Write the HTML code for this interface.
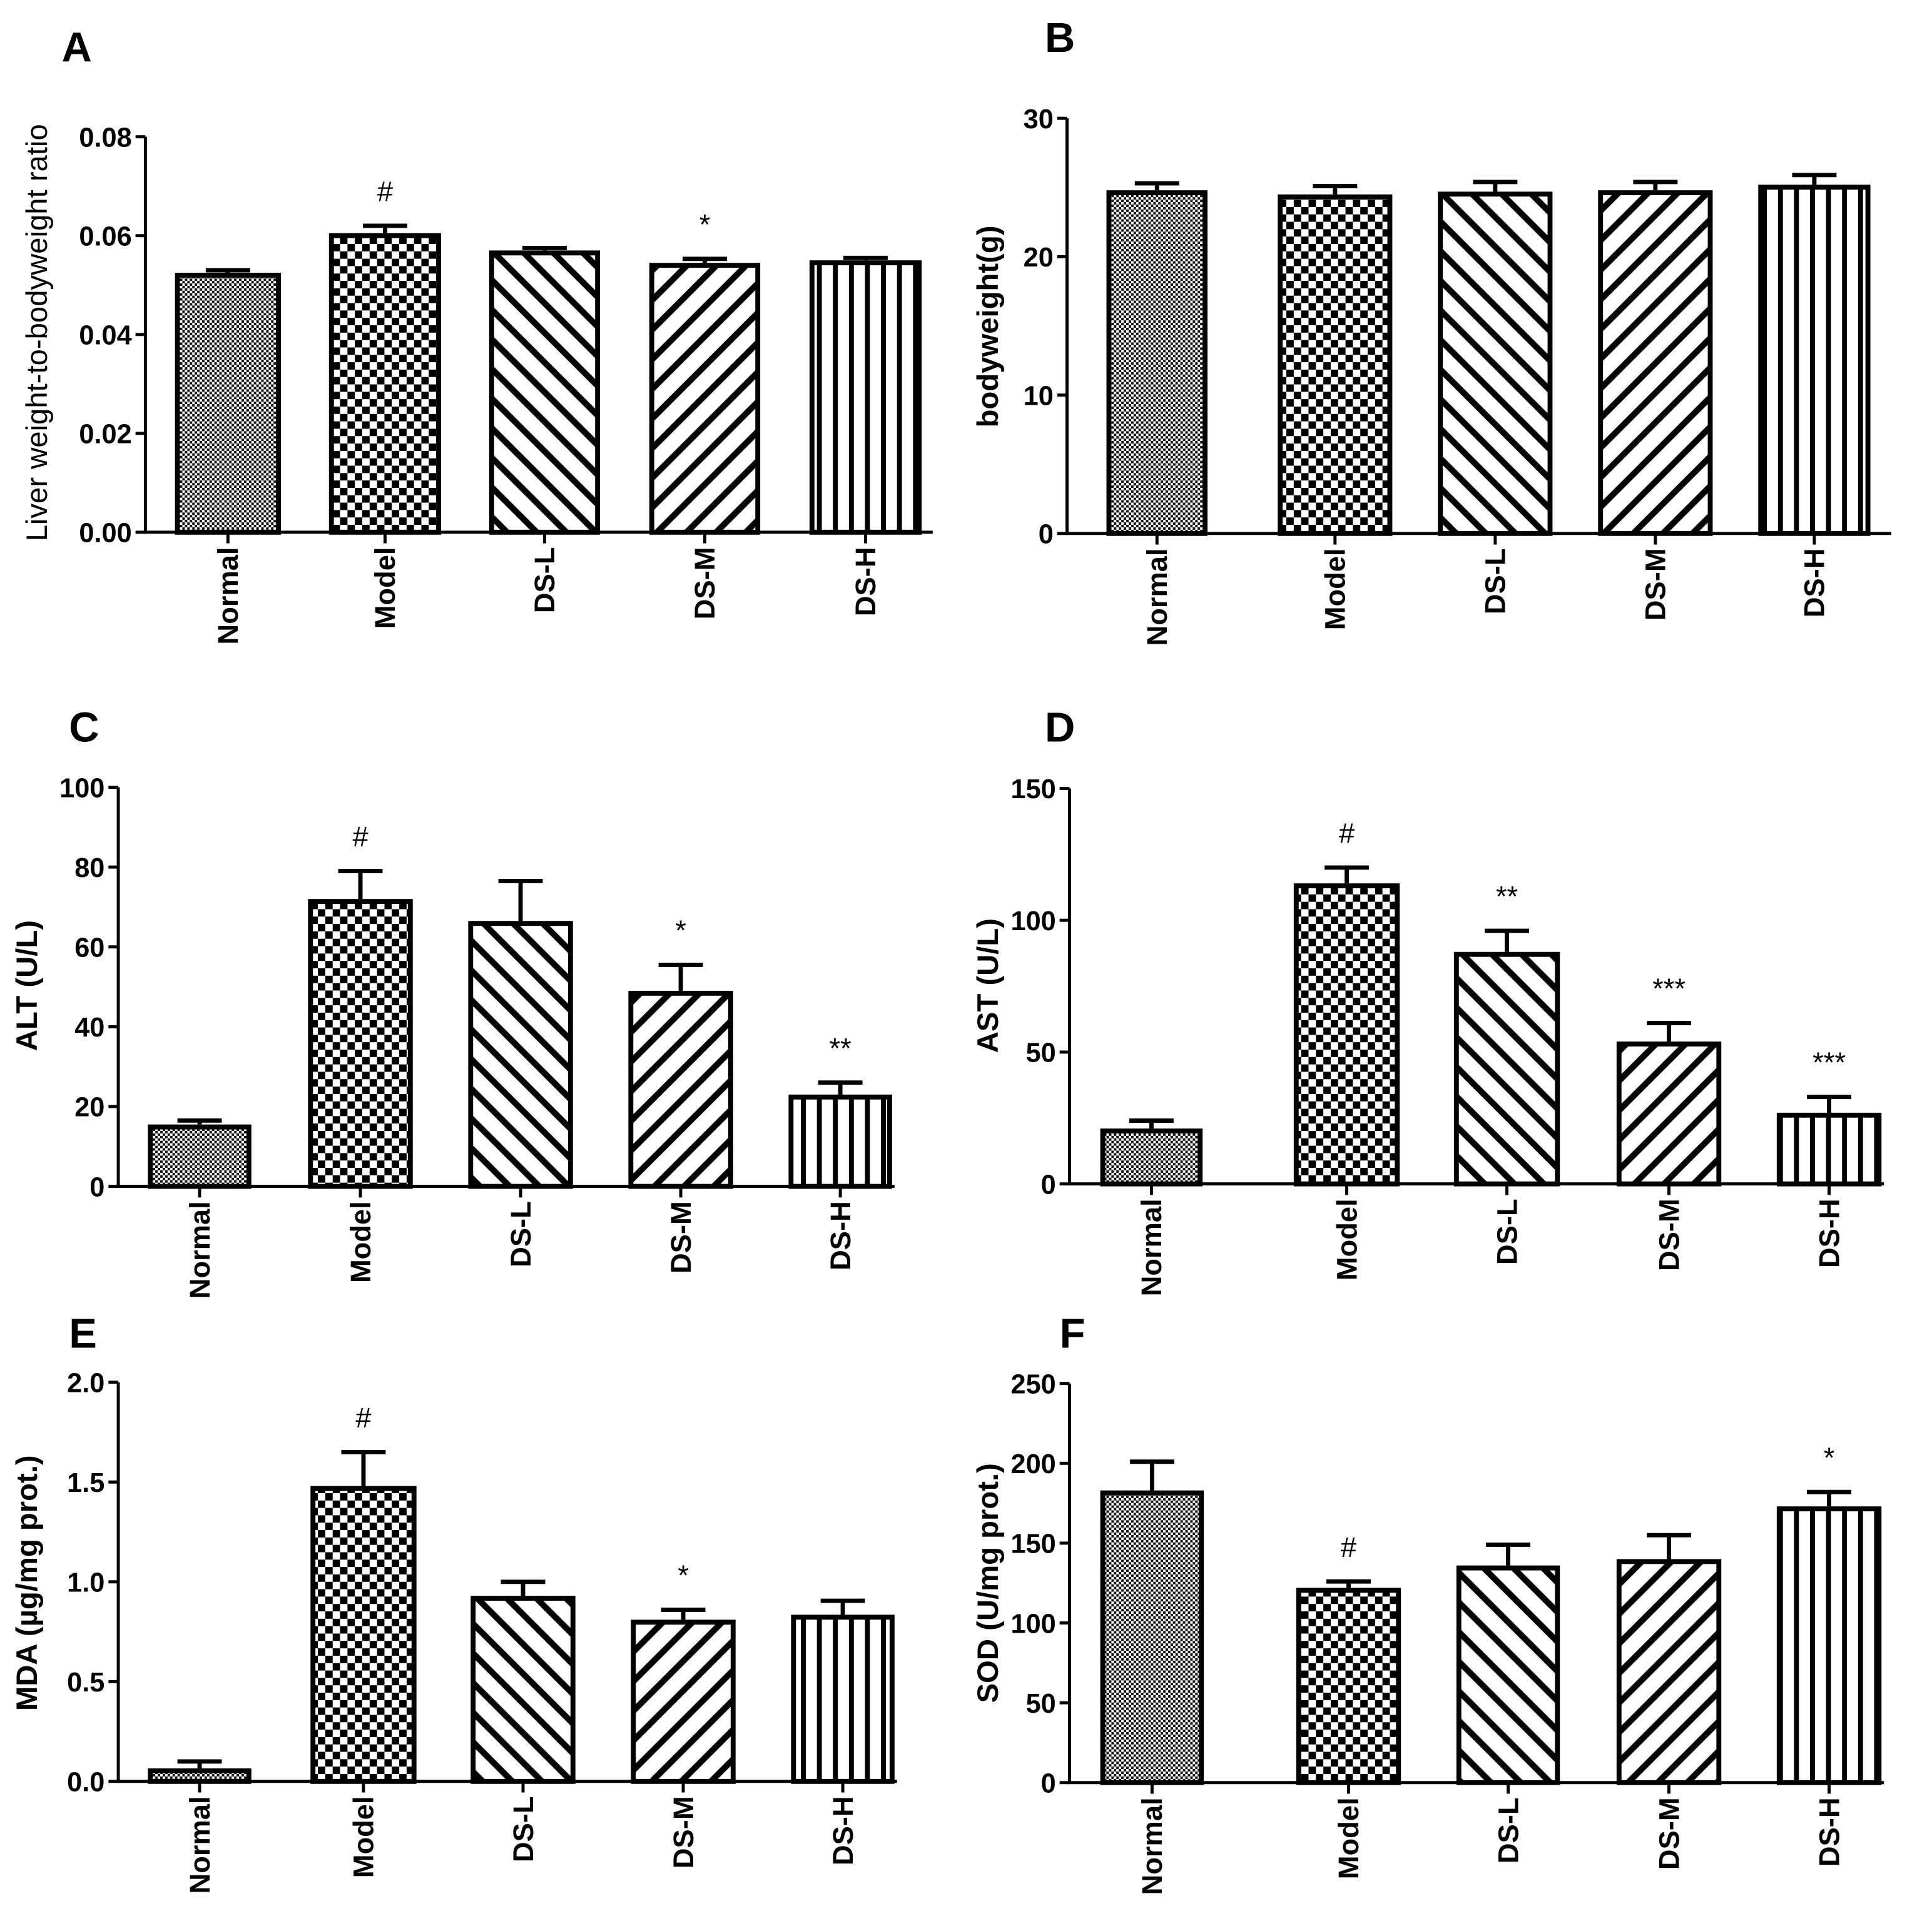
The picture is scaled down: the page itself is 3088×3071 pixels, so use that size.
<!DOCTYPE html>
<html><head><meta charset="utf-8"><style>
html,body{margin:0;padding:0;background:#fff;}
svg{display:block;}
text{font-family:"Liberation Sans",Arial,sans-serif;}
.tk{font-family:"Liberation Sans Narrow","Liberation Sans",sans-serif;font-weight:bold;font-size:22px;}
.cat{font-weight:bold;font-size:23px;}
.ttl{font-size:24px;}
.pl{font-weight:bold;font-size:34px;}
.sig{font-size:23px;}
</style></head><body>
<svg id="fig" width="3088" height="3071" viewBox="0 0 1568 1559.3" xmlns="http://www.w3.org/2000/svg">
<defs>
<pattern id="p0" width="4" height="4" patternUnits="userSpaceOnUse"><rect width="4" height="4" fill="#fff"/><rect width="2" height="2" fill="#111"/><rect x="2" y="2" width="2" height="2" fill="#111"/></pattern>
<pattern id="p1" width="12" height="12" patternUnits="userSpaceOnUse"><rect width="12" height="12" fill="#fff"/><rect width="6" height="6" fill="#000"/><rect x="6" y="6" width="6" height="6" fill="#000"/></pattern>
<pattern id="p2" width="17" height="17" patternUnits="userSpaceOnUse" patternTransform="rotate(-45)"><rect width="17" height="17" fill="#fff"/><rect width="5" height="17" fill="#000"/></pattern>
<pattern id="p3" width="17" height="17" patternUnits="userSpaceOnUse" patternTransform="rotate(45)"><rect width="17" height="17" fill="#fff"/><rect width="5" height="17" fill="#000"/></pattern>
<pattern id="p4" width="13" height="13" patternUnits="userSpaceOnUse"><rect width="13" height="13" fill="#fff"/><rect width="4" height="13" fill="#000"/></pattern>
</defs>
</svg>
<script>
const categories = ["Normal","Model","DS-L","DS-M","DS-H"];
const aValues = [0.0525,0.0605,0.057,0.0545,0.055];
const aErrors = [0.0005,0.0015,0.0005,0.0008,0.0005];
const aTicks = ["0.00","0.02","0.04","0.06","0.08"];
const aSig = ["","#","","*",""];
const bValues = [24.8,24.5,24.7,24.8,25.2];
const bErrors = [0.5,0.6,0.7,0.6,0.7];
const bTicks = ["0","10","20","30"];
const bSig = ["","","","",""];
const cValues = [15.5,72,66.5,49,23];
const cErrors = [1,7,10,6.5,3];
const cTicks = ["0","20","40","60","80","100"];
const cSig = ["","#","","*","**"];
const dValues = [21,114,88,54,27];
const dErrors = [3,6,8,7,6];
const dTicks = ["0","50","100","150"];
const dSig = ["","#","**","***","***"];
const eValues = [0.065,1.48,0.93,0.81,0.835];
const eErrors = [0.035,0.17,0.07,0.05,0.07];
const eTicks = ["0.0","0.5","1.0","1.5","2.0"];
const eSig = ["","#","","*",""];
const fValues = [183,122,136,140,173];
const fErrors = [18,4,13,15,9];
const fTicks = ["0","50","100","150","200","250"];
const fSig = ["","#","","","*"];

const NS="http://www.w3.org/2000/svg";
const svg=document.getElementById('fig');
function mk(tag,attrs,parent,txt){const e=document.createElementNS(NS,tag);for(const k in attrs)e.setAttribute(k,attrs[k]);if(txt!==undefined)e.textContent=txt;(parent||svg).appendChild(e);return e;}

const panels=[
 {id:'a',letter:'A',lx:50,ly:50,ax:118,top:111,bot:432,xend:757,max:0.08,vals:aValues,errs:aErrors,ticks:aTicks,sig:aSig,bars:[[142,228],[267,358],[397,487],[527,617],[657,748]],title:"Liver weight-to-bodyweight ratio",tx:38,ty:270,tb:false,ts:29},
 {id:'b',letter:'B',lx:848,ly:42,ax:866,top:96,bot:433,xend:1535,max:30,vals:bValues,errs:bErrors,ticks:bTicks,sig:bSig,bars:[[898,980],[1037,1130],[1167,1260],[1297,1390],[1427,1518]],title:"bodyweight(g)",tx:810,ty:265,tb:true,ts:24},
 {id:'c',letter:'C',lx:56,ly:602,ax:96,top:639,bot:963,xend:726,max:100,vals:cValues,errs:cErrors,ticks:cTicks,sig:cSig,bars:[[120,204],[250,335],[380,465],[510,595],[640,724]],title:"ALT (U/L)",tx:30,ty:800,tb:true,ts:24},
 {id:'d',letter:'D',lx:848,ly:602,ax:868,top:640,bot:961,xend:1529,max:150,vals:dValues,errs:dErrors,ticks:dTicks,sig:dSig,bars:[[893,976],[1050,1136],[1180,1266],[1312,1397],[1442,1527]],title:"AST (U/L)",tx:810,ty:800,tb:true,ts:24},
 {id:'e',letter:'E',lx:56,ly:1094,ax:96,top:1122,bot:1446,xend:728,max:2.0,vals:eValues,errs:eErrors,ticks:eTicks,sig:eSig,bars:[[120,204],[252,338],[382,467],[512,597],[642,726]],title:"MDA (\u00b5g/mg prot.)",tx:30,ty:1285,tb:true,ts:24},
 {id:'f',letter:'F',lx:860,ly:1094,ax:868,top:1123,bot:1447,xend:1529,max:250,vals:fValues,errs:fErrors,ticks:fTicks,sig:fSig,bars:[[893,977],[1052,1137],[1182,1266],[1312,1397],[1442,1527]],title:"SOD (U/mg prot.)",tx:810,ty:1285,tb:true,ts:24}
];

panels.forEach(p=>{
 const g=mk('g',{});
 
 
 const y=v=>p.bot-(v/p.max)*(p.bot-p.top);
 const lab=mk('text',{x:p.lx,y:p.ly,'class':'pl'},g,p.letter);
 
 
 const t=mk('text',{x:p.tx,y:p.ty,'class':'ttl','text-anchor':'middle','font-size':p.ts,'transform':`rotate(-90 ${p.tx} ${p.ty})`,'font-weight':p.tb?'bold':'normal'},g,p.title);
 
 
 p.vals.forEach((v,i)=>{
  const [x0,x1]=p.bars[i];const cx=(x0+x1)/2;
  const e=p.errs[i];
  const ey=y(v+e);
  const eb=mk('path',{d:`M${cx} ${y(v)} V${ey} M${cx-18} ${ey} H${cx+18}`,stroke:'#000','stroke-width':3.5,fill:'none'},g);
  
  
  const r=mk('rect',{x:x0+2,y:y(v)+2,width:x1-x0-4,height:p.bot-y(v)-2,fill:`url(#p${i})`,stroke:'#000','stroke-width':4},g);
  
  
  if(p.sig[i]){
   const s=mk('text',{x:cx,y:ey-20,'class':'sig','text-anchor':'middle'},g,p.sig[i]);
   
   
  }
  const tk=mk('line',{x1:cx,y1:p.bot,x2:cx,y2:p.bot+9,stroke:'#000','stroke-width':2.5},g);
  
  
  const c=mk('text',{x:cx+8,y:p.bot+12,'class':'cat','text-anchor':'end','transform':`rotate(-90 ${cx+8} ${p.bot+12})`},g,categories[i]);
  
  
 });
 const ax=mk('path',{d:`M${p.ax} ${p.top} V${p.bot} H${p.xend}`,stroke:'#000','stroke-width':2.5,fill:'none'},g);
 
 
 const n=p.ticks.length;
 p.ticks.forEach((tl,k)=>{
  const yy=p.bot-k*(p.bot-p.top)/(n-1);
  const l=mk('line',{x1:p.ax-8,y1:yy,x2:p.ax,y2:yy,stroke:'#000','stroke-width':2.5},g);
  
  
  const tt=mk('text',{x:p.ax-11,y:yy+8,'class':'tk','text-anchor':'end'},g,tl);
  
  
 });
});
</script>
</body></html>
